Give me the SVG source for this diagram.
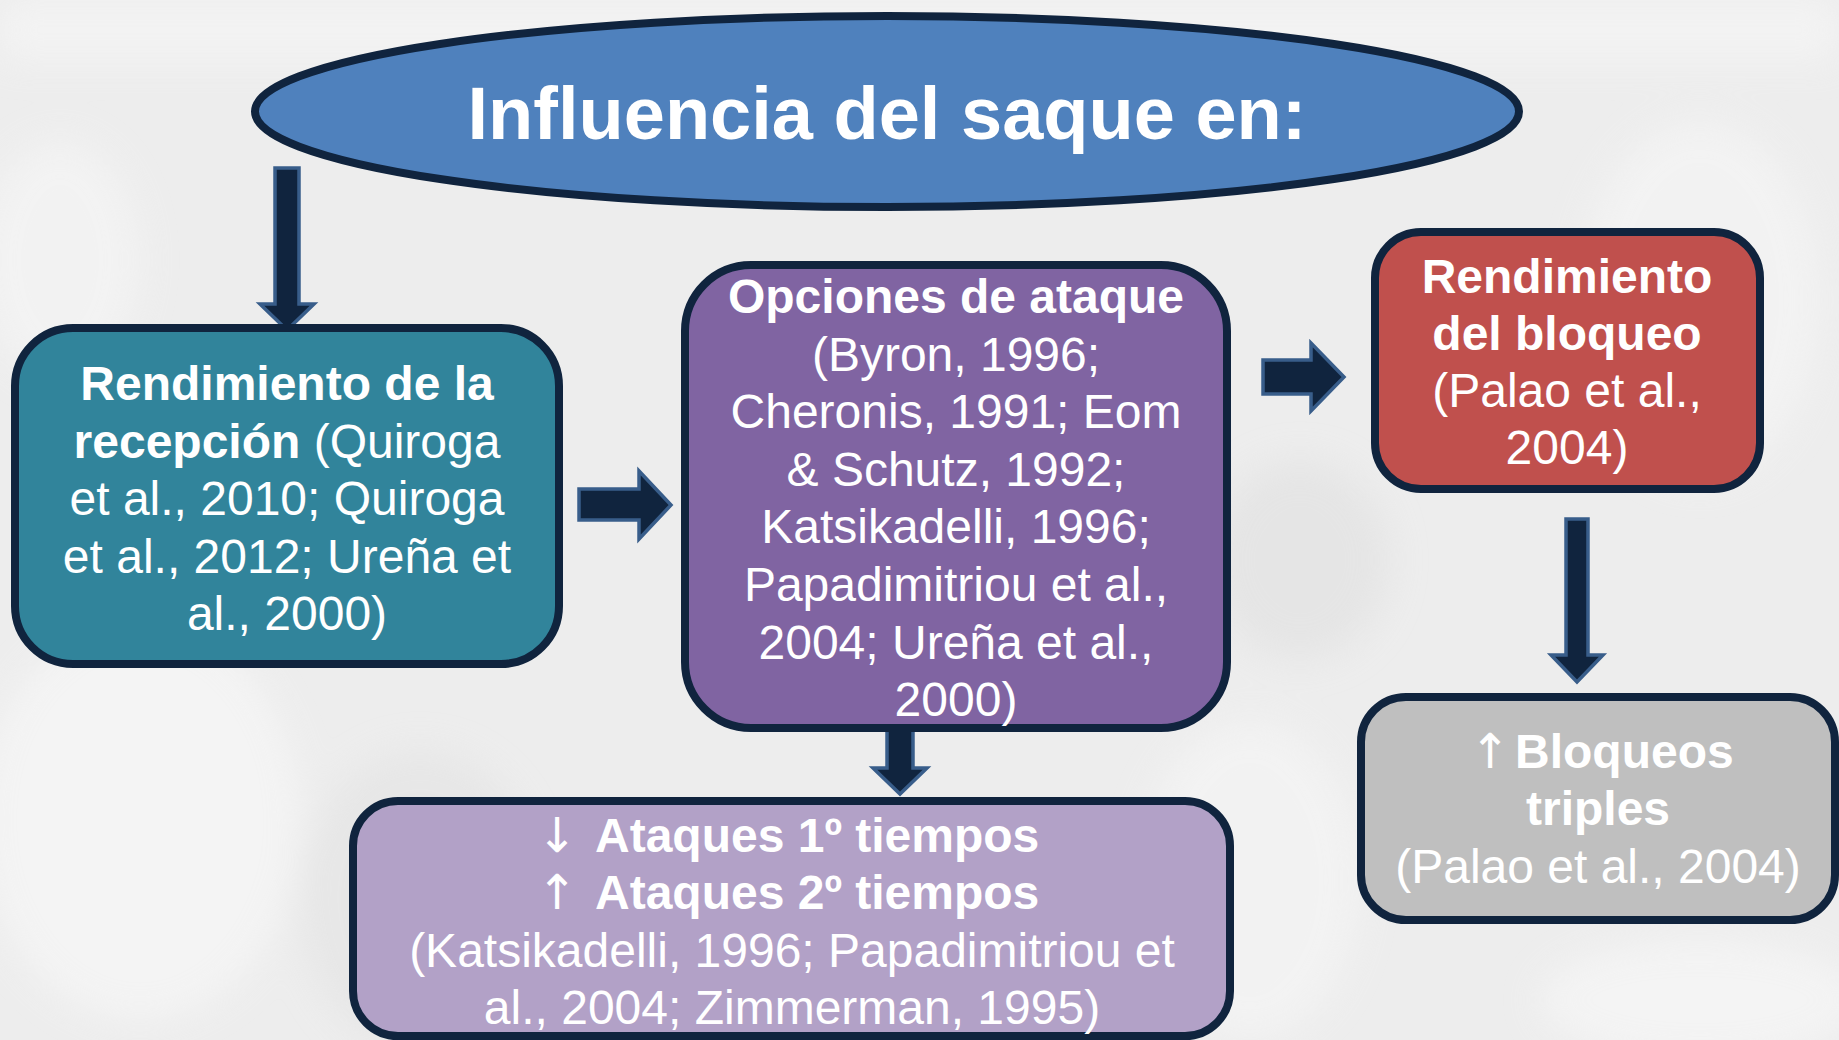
<svg xmlns="http://www.w3.org/2000/svg" width="1839" height="1040" viewBox="0 0 1839 1040">
  <style>
    .box { stroke: #10243E; stroke-width: 8; }
    .arrow { fill: #10243E; stroke: #385D8A; stroke-width: 3.5; stroke-linejoin: miter; }
    text { font-family: "Liberation Sans", Arial, sans-serif; fill: #FFFFFF; text-anchor: middle; font-size: 48px; }
    .b { font-weight: bold; }
    .st { text-anchor: start; }
    .ar { font-family: "DejaVu Sans", sans-serif; font-weight: normal; font-size: 48px; }
  </style>
  <defs>
    <filter id="blur" x="-20%" y="-20%" width="140%" height="140%">
      <feGaussianBlur stdDeviation="18"/>
    </filter>
  </defs>

  <!-- faded background -->
  <rect x="0" y="0" width="1839" height="1040" fill="#EDEDED"/>
  <g filter="url(#blur)" opacity="0.7">
    <rect x="0" y="0" width="1839" height="60" fill="#F6F6F6"/>
    <ellipse cx="140" cy="820" rx="160" ry="200" fill="#F7F7F7"/>
    <ellipse cx="420" cy="900" rx="120" ry="150" fill="#E4E4E4"/>
    <ellipse cx="1250" cy="880" rx="110" ry="160" fill="#F5F5F5"/>
    <ellipse cx="1700" cy="300" rx="120" ry="180" fill="#F5F5F5"/>
    <ellipse cx="1300" cy="560" rx="90" ry="100" fill="#E2E2E2"/>
    <ellipse cx="1700" cy="1000" rx="160" ry="60" fill="#F7F7F7"/>
    <ellipse cx="60" cy="260" rx="80" ry="120" fill="#F5F5F5"/>
  </g>

  <!-- connectors -->
  <g id="connectors">
    <path class="arrow" d="M275,168 H299 V304 H314 L287,330 L260,304 H275 Z"/>
    <path class="arrow" d="M579,489 H639 V471 L671,505 L639,539 V520 H579 Z"/>
    <path class="arrow" d="M1263,360 H1311 V343 L1344,377 L1311,411 V394 H1263 Z"/>
    <path class="arrow" d="M887,727 H913 V768 H927 L900,794 L873,768 H887 Z"/>
    <path class="arrow" d="M1566,519 H1588 V655 H1603 L1577,682 L1551,655 H1566 Z"/>
  </g>

  <g id="title">
    <ellipse cx="887" cy="111.5" rx="632" ry="95.5" fill="#4F81BD" class="box"/>
    <text x="887" y="139" class="b" style="font-size:74px">Influencia del saque en:</text>
  </g>

  <g id="recepcion">
    <rect x="15" y="328" width="544" height="336" rx="58" ry="58" fill="#31849B" class="box"/>
    <text x="287" y="400" class="b">Rendimiento de la</text>
    <text x="287" y="457.6"><tspan class="b">recepción</tspan> (Quiroga</text>
    <text x="287" y="515.2">et al., 2010; Quiroga</text>
    <text x="287" y="572.8">et al., 2012; Ureña et</text>
    <text x="287" y="630.4">al., 2000)</text>
  </g>

  <g id="opciones">
    <rect x="685" y="265" width="542" height="463" rx="66" ry="66" fill="#8064A2" class="box"/>
    <text x="956" y="313" class="b">Opciones de ataque</text>
    <text x="956" y="370.6">(Byron, 1996;</text>
    <text x="956" y="428.2">Cheronis, 1991; Eom</text>
    <text x="956" y="485.8">&amp; Schutz, 1992;</text>
    <text x="956" y="543.4">Katsikadelli, 1996;</text>
    <text x="956" y="601">Papadimitriou et al.,</text>
    <text x="956" y="658.6">2004; Ureña et al.,</text>
    <text x="956" y="716.2">2000)</text>
  </g>

  <g id="bloqueo">
    <rect x="1375" y="232" width="385" height="257" rx="46" ry="46" fill="#C0504D" class="box"/>
    <text x="1567" y="293" class="b">Rendimiento</text>
    <text x="1567" y="350" class="b">del bloqueo</text>
    <text x="1567" y="407">(Palao et al.,</text>
    <text x="1567" y="464">2004)</text>
  </g>

  <g id="tiempos">
    <rect x="353" y="801" width="877" height="235" rx="45" ry="45" fill="#B2A1C7" class="box"/>
    <text x="557" y="852" class="ar">↓</text>
    <text x="595" y="852" class="b st">Ataques 1º tiempos</text>
    <text x="557" y="909" class="ar">↑</text>
    <text x="595" y="909" class="b st">Ataques 2º tiempos</text>
    <text x="792" y="967">(Katsikadelli, 1996; Papadimitriou et</text>
    <text x="792" y="1024">al., 2004; Zimmerman, 1995)</text>
  </g>

  <g id="triples">
    <rect x="1361" y="697" width="474" height="223" rx="45" ry="45" fill="#BFBFBF" class="box"/>
    <text x="1490" y="768" class="ar">↑</text>
    <text x="1515" y="768" class="b st">Bloqueos</text>
    <text x="1598" y="825" class="b">triples</text>
    <text x="1598" y="883">(Palao et al., 2004)</text>
  </g>
</svg>
